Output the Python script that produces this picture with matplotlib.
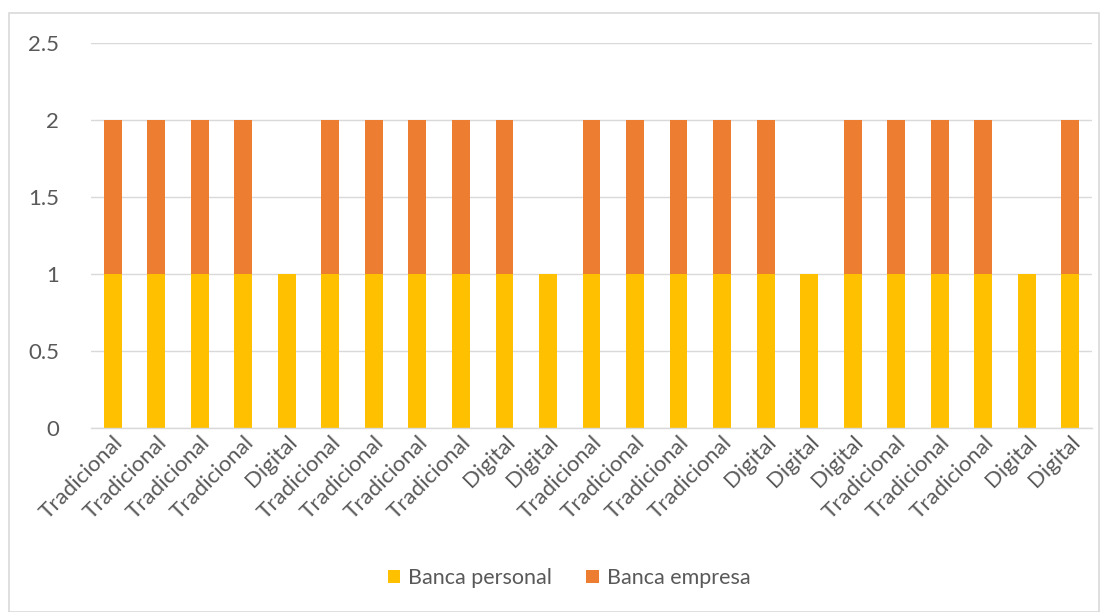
import numpy as np
import matplotlib
matplotlib.use("Agg")
import matplotlib.pyplot as plt
from matplotlib.patches import Rectangle

plt.rcParams["font.family"] = ["Lato", "DejaVu Sans"]

categories = ["Tradicional", "Tradicional", "Tradicional", "Tradicional", "Digital",
              "Tradicional", "Tradicional", "Tradicional", "Tradicional", "Digital",
              "Digital", "Tradicional", "Tradicional", "Tradicional", "Tradicional",
              "Digital", "Digital", "Digital", "Tradicional", "Tradicional",
              "Tradicional", "Digital", "Digital"]
banca_personal = [1, 1, 1, 1, 1, 1, 1, 1, 1, 1, 1, 1, 1, 1, 1, 1, 1, 1, 1, 1, 1, 1, 1]
banca_empresa = [1, 1, 1, 1, 0, 1, 1, 1, 1, 1, 0, 1, 1, 1, 1, 1, 0, 1, 1, 1, 1, 0, 1]
y_ticks = [0, 0.5, 1, 1.5, 2, 2.5]
y_labels = ["0", "0.5", "1", "1.5", "2", "2.5"]

TXT = "#595959"
GRID = "#d9d9d9"

fig = plt.figure(figsize=(11.08, 6.12), dpi=100)
ax = fig.add_axes([91 / 1108, 1 - 428 / 612, (1092 - 91) / 1108, (428 - 43) / 612])

x = np.arange(len(categories))
ax.bar(x, banca_personal, width=0.41, color="#ffc000", label="Banca personal", zorder=3)
ax.bar(x, banca_empresa, width=0.41, bottom=banca_personal, color="#ed7d31",
       label="Banca empresa", zorder=3)

ax.set_xlim(-0.5, len(categories) - 0.5)
ax.set_ylim(0, 2.5)
ax.set_yticks(y_ticks)
ax.set_yticklabels(y_labels)
ax.yaxis.grid(True, color=GRID, lw=1, zorder=0)
for s in ["top", "right", "left"]:
    ax.spines[s].set_visible(False)
ax.spines["bottom"].set_color(GRID)
ax.spines["bottom"].set_linewidth(1)
ax.spines["bottom"].set_zorder(4)
ax.tick_params(axis="y", length=0, pad=23, labelsize=16, colors=TXT)
ax.tick_params(axis="x", length=0, pad=3, labelsize=16, colors=TXT)
ax.set_xticks(x)
ax.set_xticklabels(categories, rotation=45, ha="right", rotation_mode="anchor")

leg = fig.legend(loc="center", bbox_to_anchor=(569 / 1108, 1 - 578 / 612), ncol=2,
                 frameon=False, fontsize=15.5, handlelength=0.6, handleheight=0.6,
                 handletextpad=0.35, columnspacing=1.6, labelcolor=TXT)

fig.patches.append(Rectangle((9 / 1108, 0), 1090 / 1108, 1 - 13 / 612,
                             transform=fig.transFigure, fill=False,
                             edgecolor=GRID, lw=1.2))

fig.savefig("out.png", dpi=100, facecolor="white")
plt.close(fig)
